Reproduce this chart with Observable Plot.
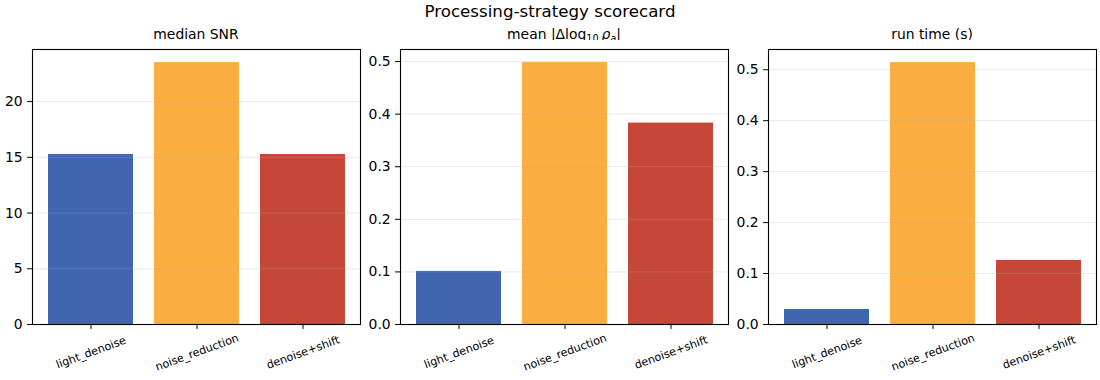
<!DOCTYPE html>
<html>
<head>
<meta charset="utf-8">
<script src="https://cdn.jsdelivr.net/npm/d3@7"></script>
<script src="https://cdn.jsdelivr.net/npm/@observablehq/plot@0.6"></script>
<style>
  html, body { margin: 0; padding: 0; background: white; }
  #root { position: relative; width: 1100px; height: 380px; font-family: "DejaVu Sans", sans-serif; color: black; overflow: hidden; }
  .suptitle { position: absolute; left: 0; width: 1100px; top: 4px; text-align: center; font-size: 16.67px; line-height: 16.67px; }
  .panel { position: absolute; top: 0; height: 380px; }
  .ptitle { position: absolute; top: 28px; text-align: center; font-size: 13.9px; line-height: 13.9px; white-space: nowrap; }
  .ptitle sub { font-size: 70%; vertical-align: -0.3em; line-height: 0; }
  .panel svg { position: absolute; top: 40px; left: 0; }
</style>
</head>
<body>
<div id="root"></div>
<script>
const categories = ["light_denoise", "noise_reduction", "denoise+shift"];
const barColors = ["#3f66af", "#fbae40", "#c44737"];
const medianSNR = [15.25, 23.5, 15.25];
const meanDlog = [0.101, 0.498, 0.383];
const runTime = [0.0295, 0.514, 0.1257];
const snrTicks = [0, 5, 10, 15, 20];
const dlogTicks = [0, 0.1, 0.2, 0.3, 0.4, 0.5];
const timeTicks = [0, 0.1, 0.2, 0.3, 0.4, 0.5];
const suptitle = "Processing-strategy scorecard";
const panelTitles = ["median SNR", "mean |Δlog<sub>10</sub>\u2009<i>ρ</i><sub><i>a</i></sub>|", "run time (s)"];

const root = document.getElementById("root");
const st = document.createElement("div");
st.className = "suptitle";
st.textContent = suptitle;
root.appendChild(st);

function panel(values, ticks, fmt, width, mr) {
  const data = categories.map((c, i) => ({cat: c, v: values[i], color: barColors[i]}));
  const ymax = d3.max(values) * 1.05;
  return Plot.plot({
    width, height: 340,
    marginLeft: 32, marginRight: mr, marginTop: 9, marginBottom: 56,
    style: {fontFamily: "DejaVu Sans", fontSize: "13.9px", color: "black", background: "white", overflow: "visible"},
    x: {domain: categories, paddingInner: 0.2, paddingOuter: 0.14, axis: null},
    y: {domain: [0, ymax], axis: null},
    color: {type: "identity"},
    marks: [
      Plot.barY(data, {x: "cat", y: "v", fill: d => d.color}),
      Plot.gridY(ticks, {stroke: "#b0b0b0", strokeOpacity: 0.35, strokeWidth: 0.8}),
      Plot.axisY(ticks, {tickFormat: fmt, tickSize: 4.9, tickPadding: 4.9, stroke: "black", fill: "black", label: null, fontSize: 13.9}),
      Plot.axisX({tickSize: 4.9, tickFormat: () => "", label: null, stroke: "black"}),
      Plot.text(categories, {x: d => d, frameAnchor: "bottom", dy: 28, rotate: -20, fontSize: 11.1, fill: "black", textAnchor: "middle", lineAnchor: "middle"}),
      Plot.frame({stroke: "black", strokeWidth: 1.1})
    ]
  });
}

const specs = [
  {values: medianSNR, ticks: snrTicks, fmt: d3.format("d"), left: 0, width: 368, mr: 8},
  {values: meanDlog, ticks: dlogTicks, fmt: d3.format(".1f"), left: 368, width: 368, mr: 8},
  {values: runTime, ticks: timeTicks, fmt: d3.format(".1f"), left: 736, width: 364, mr: 4}
];

specs.forEach((s, i) => {
  const p = document.createElement("div");
  p.className = "panel";
  p.style.left = s.left + "px";
  p.style.width = s.width + "px";
  const t = document.createElement("div");
  t.className = "ptitle";
  t.style.left = "32px";
  t.style.width = (s.width - 32 - s.mr) + "px";
  t.innerHTML = panelTitles[i];
  p.appendChild(t);
  p.appendChild(panel(s.values, s.ticks, s.fmt, s.width, s.mr));
  root.appendChild(p);
});
</script>
</body>
</html>
